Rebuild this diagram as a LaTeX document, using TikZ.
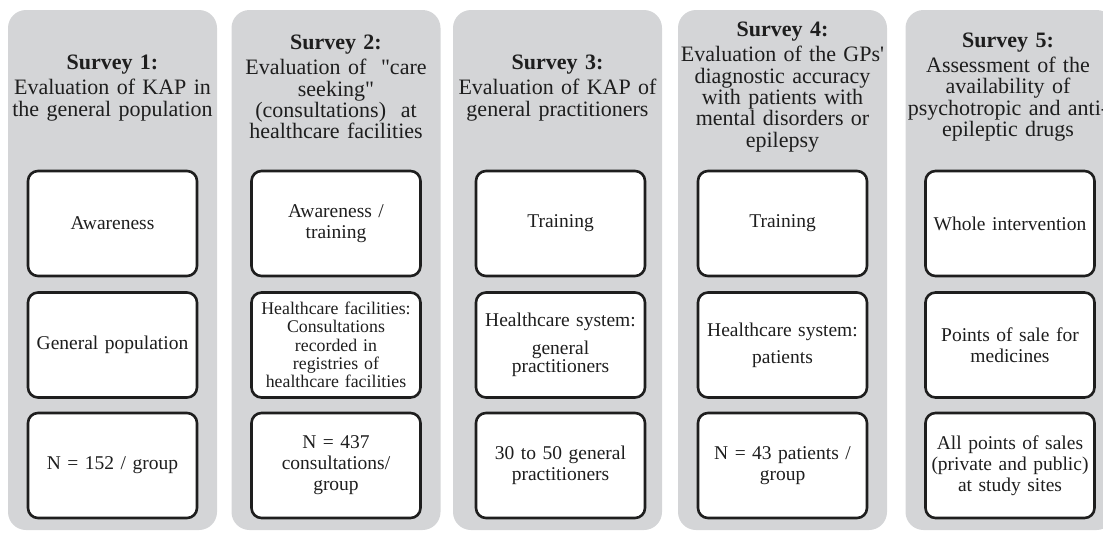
\documentclass[tikz,border=0pt]{standalone}
\usepackage{fontspec}
\newfontfamily\tnr{Liberation Serif}
\definecolor{colgray}{RGB}{212,213,215}
\definecolor{ink}{RGB}{30,30,30}
\tikzset{
  column/.style={fill=colgray, draw=none, rounded corners=18pt, minimum width=209pt, minimum height=520pt, inner sep=0pt},
  head/.style={align=center, text width=230pt, inner sep=0pt, text=ink, font=\tnr\fontsize{22}{21.3}\selectfont},
  cell/.style={draw=ink, line width=2.6pt, fill=white, rounded corners=10pt, minimum width=169pt, minimum height=105pt, inner sep=0pt, align=center, text width=165pt, text=ink, font=\tnr\fontsize{19.5}{21}\selectfont},
}
\begin{document}
\begin{tikzpicture}[x=1pt,y=-1pt]
\useasboundingbox (0,0) rectangle (1103,538);
% columns
\node[column] (c1) at (112.5,270) {};
\node[column] (c2) at (336,270) {};
\node[column] (c3) at (557.5,270) {};
\node[column] (c4) at (782.5,270) {};
\node[column] (c5) at (1010,270) {};
% headers
\node[head] (h1) at (112.5,88) {\textbf{Survey 1:}\\[3.7pt]Evaluation of KAP in\\the general population};
\node[head] (h2) at (336,87) {\textbf{Survey 2:}\\[3.7pt]Evaluation of\ \ "care\\seeking"\\(consultations)\ \ at\\healthcare facilities};
\node[head] (h3) at (557.5,88) {\textbf{Survey 3:}\\[3.7pt]Evaluation of KAP of\\general practitioners};
\node[head] (h4) at (782.5,87) {\textbf{Survey 4:}\\[3.7pt]Evaluation of the GPs'\\diagnostic accuracy\\with patients with\\mental disorders or\\epilepsy};
\node[head] (h5) at (1008,87) {\textbf{Survey 5:}\\[3.7pt]Assessment of the\\availability of\\psychotropic and anti-\\epileptic drugs};
% row 1
\node[cell] (a1) at (112.5,223.5) {Awareness};
\node[cell] (a2) at (336,223.5) {Awareness /\\training};
\node[cell] (a3) at (560.5,223.5) {Training};
\node[cell] (a4) at (782.5,223.5) {Training};
\node[cell] (a5) at (1010,223.5) {Whole intervention};
% row 2
\node[cell] (b1) at (112.5,345) {General population};
\node[cell, font=\tnr\fontsize{17.8}{18.4}\selectfont] (b2) at (336,345) {Healthcare facilities:\\Consultations\\recorded in\\registries of\\healthcare facilities};
\node[cell, font=\tnr\fontsize{19.5}{18.4}\selectfont] (b3) at (560.5,345) {Healthcare system:\\[9.5pt]general\\practitioners};
\node[cell] (b4) at (782.5,345) {Healthcare system:\\[6pt]patients};
\node[cell] (b5) at (1010,345) {Points of sale for\\medicines};
% row 3
\node[cell] (n1) at (112.5,465.5) {N = 152 / group};
\node[cell] (n2) at (336,465.5) {N = 437\\consultations/\\group};
\node[cell] (n3) at (560.5,465.5) {30 to 50 general\\practitioners};
\node[cell] (n4) at (782.5,465.5) {N = 43 patients /\\group};
\node[cell] (n5) at (1010,465.5) {All points of sales\\(private and public)\\at study sites};
\end{tikzpicture}
\end{document}
